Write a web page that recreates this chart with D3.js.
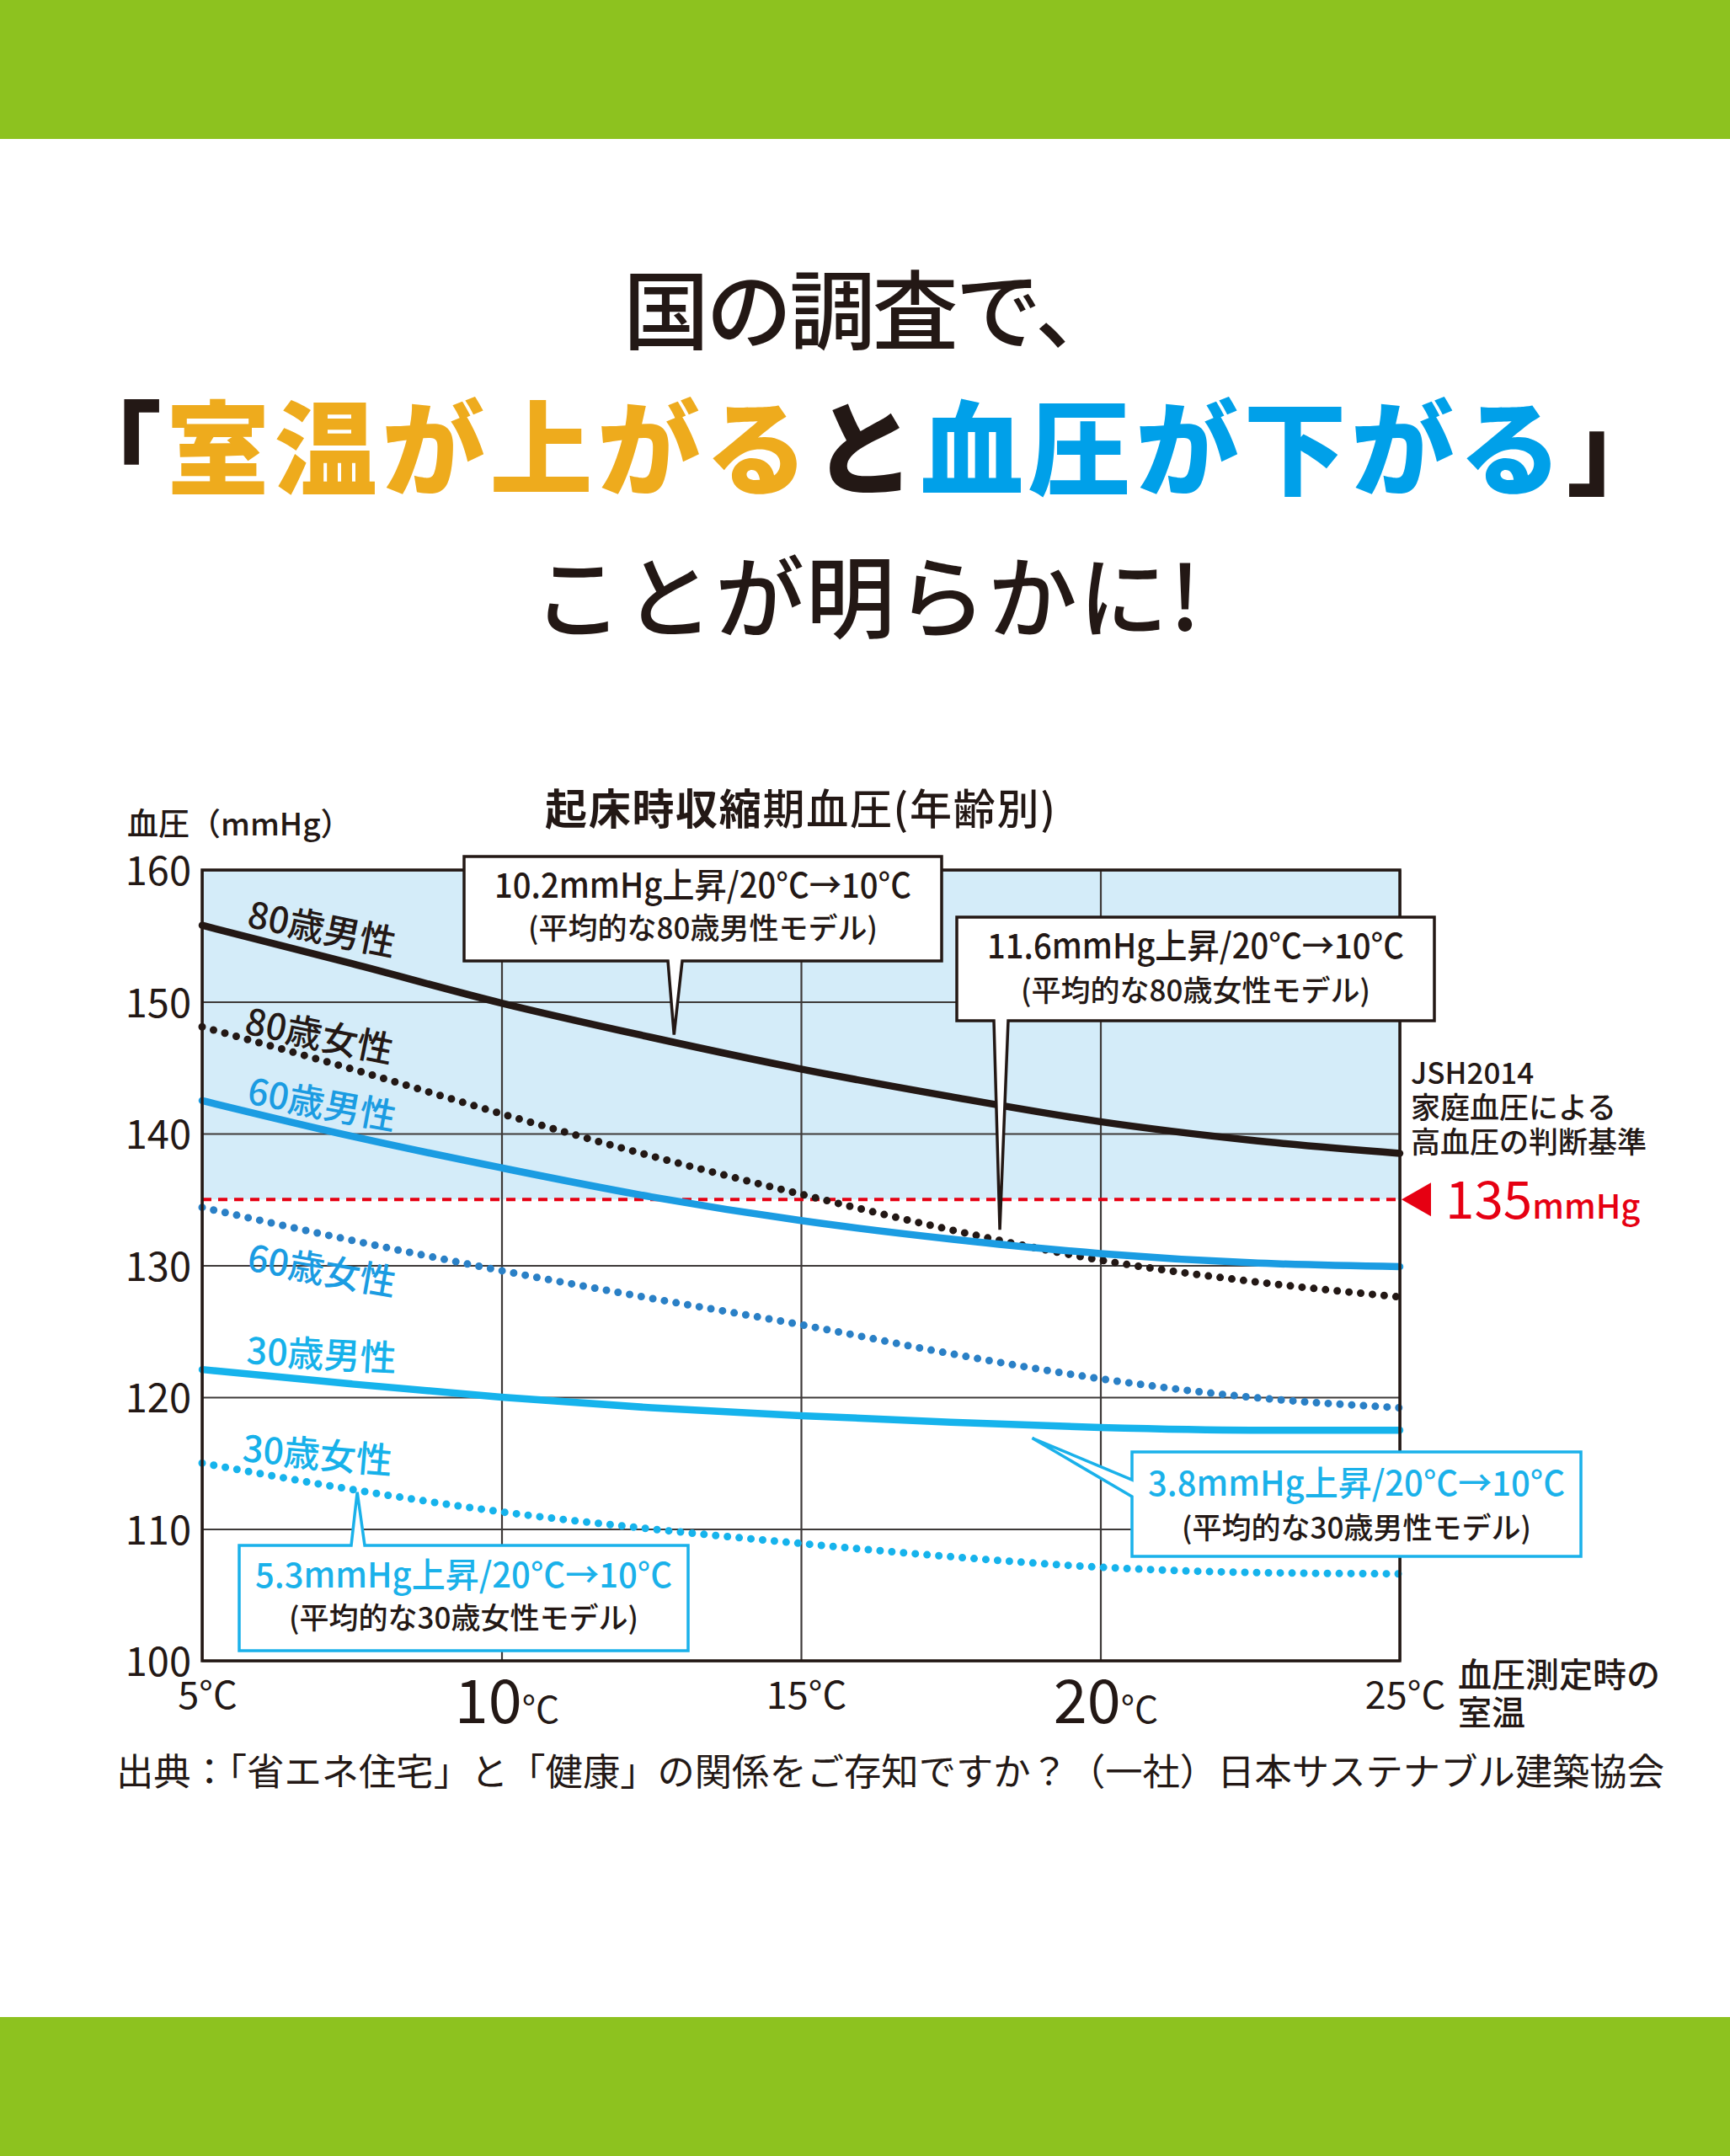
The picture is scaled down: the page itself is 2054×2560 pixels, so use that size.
<!DOCTYPE html>
<html>
<head>
<meta charset="utf-8">
<title>起床時収縮期血圧（年齢別）</title>
<style>
  html, body { margin: 0; padding: 0; background: #fff; }
  svg { display: block; }
  text { font-family: "Noto Sans CJK JP", "Noto Sans", sans-serif; fill: #231815; }
  .grid line { stroke: #3e3a39; stroke-width: 2.2; }
  .grid .domain { display: none; }
</style>
</head>
<body>
<div id="chart"></div>
<script src="https://cdn.jsdelivr.net/npm/d3@7/dist/d3.min.js"></script>
<script>
// ---- data ----
var temps   = [5, 7.5, 10, 12.5, 15, 17.5, 20, 22.5, 25];
var male80   = [155.8, 152.9, 149.9, 147.3, 144.9, 142.8, 140.9, 139.5, 138.5];
var female80 = [148.1, 144.9, 141.5, 138.3, 135.4, 132.7, 130.4, 128.8, 127.6];
var male60   = [142.5, 139.8, 137.4, 135.2, 133.4, 132.0, 130.9, 130.2, 129.9];
var female60 = [134.4, 131.9, 129.6, 127.5, 125.5, 123.3, 121.4, 120.0, 119.2];
var male30   = [122.1, 121.0, 120.0, 119.2, 118.6, 118.1, 117.7, 117.5, 117.5];
var female30 = [115.0, 113.0, 111.3, 110.0, 108.9, 107.9, 107.1, 106.7, 106.6];
var seriesNames = ["80歳男性", "80歳女性", "60歳男性", "60歳女性", "30歳男性", "30歳女性"];
var yTicks = [100, 110, 120, 130, 140, 150, 160];
var xTicks = [5, 10, 15, 20, 25];
var threshold = 135;

var W = 2054, H = 2560;
var x0 = 240, x1 = 1662, yTop = 1033, yBot = 1972;

var x = d3.scaleLinear().domain([5, 25]).range([x0, x1]);
var y = d3.scaleLinear().domain([100, 160]).range([yBot, yTop]);

var svg = d3.select("#chart").append("svg")
    .attr("width", W)
    .attr("height", H);

svg.append("rect").attr("width", W).attr("height", H).attr("fill", "#fff");

// green bands
svg.append("rect").attr("x", 0).attr("y", 0).attr("width", W).attr("height", 165).attr("fill", "#8dc21f");
svg.append("rect").attr("x", 0).attr("y", 2395).attr("width", W).attr("height", 165).attr("fill", "#8dc21f");

// headline
svg.append("text").attr("x", 740).attr("y", 407)
    .attr("font-size", 102).attr("font-weight", 500)
    .attr("textLength", 591).attr("lengthAdjust", "spacing")
    .text("国の調査で、");

var head2 = svg.append("text").attr("x", 70).attr("y", 578)
    .attr("font-size", 122).attr("font-weight", 900);
head2.append("tspan").text("「");
head2.append("tspan").attr("fill", "#eeab1d").text("室温が上がる");
head2.append("tspan").text("と");
head2.append("tspan").attr("fill", "#00a0e9").text("血圧が下がる");
head2.append("tspan").text("」");
// stretch to the reference width with letter spacing
var h2len = head2.node().getComputedTextLength();
head2.attr("letter-spacing", Math.max(0, (1912 - h2len) / 14));

svg.append("text").attr("x", 633).attr("y", 749)
    .attr("font-size", 106).attr("font-weight", 500)
    .attr("textLength", 792).attr("lengthAdjust", "spacing")
    .text("ことが明らかに!");

// chart title and y label
var ct = svg.append("text").attr("x", 647).attr("y", 979).attr("font-size", 50);
ct.append("tspan").attr("font-weight", 700).text("起床時収縮");
ct.append("tspan").attr("font-weight", 500).text("期血圧(年齢別)");
var ctlen = ct.node().getComputedTextLength();
ct.attr("letter-spacing", Math.max(0, (606 - ctlen) / 12));

svg.append("text").attr("x", 151).attr("y", 992).attr("font-size", 37).attr("font-weight", 500)
    .text("血圧（mmHg）");

// light blue band above the threshold
svg.append("rect")
    .attr("x", x0).attr("y", y(160))
    .attr("width", x1 - x0).attr("height", y(threshold) - y(160))
    .attr("fill", "#d4ecf9");

// gridlines
svg.append("g").attr("class", "grid")
    .attr("transform", "translate(" + x0 + ",0)")
    .call(d3.axisLeft(y).tickValues(yTicks).tickSize(-(x1 - x0)).tickFormat(""));
svg.append("g").attr("class", "grid")
    .attr("transform", "translate(0," + yBot + ")")
    .call(d3.axisBottom(x).tickValues(xTicks).tickSize(-(yBot - yTop)).tickFormat(""));

// threshold line
svg.append("line")
    .attr("x1", x0).attr("x2", x1)
    .attr("y1", y(threshold)).attr("y2", y(threshold))
    .attr("stroke", "#e60012").attr("stroke-width", 4).attr("stroke-dasharray", "11,8");

// series
var series = [
  { name: seriesNames[0], values: male80,   color: "#231815", dotted: false, labelColor: "#231815", lt: 5.73, lv: 155.7, rot: 11.5 },
  { name: seriesNames[1], values: female80, color: "#231815", dotted: true,  labelColor: "#231815", lt: 5.69, lv: 147.6, rot: 11.5 },
  { name: seriesNames[2], values: male60,   color: "#1b9ce2", dotted: false, labelColor: "#1b9ce2", lt: 5.73, lv: 142.3, rot: 10.5 },
  { name: seriesNames[3], values: female60, color: "#2a80c6", dotted: true,  labelColor: "#1b9ce2", lt: 5.73, lv: 129.65, rot: 10 },
  { name: seriesNames[4], values: male30,   color: "#16b3ec", dotted: false, labelColor: "#16b1ea", lt: 5.73, lv: 122.55, rot: 3 },
  { name: seriesNames[5], values: female30, color: "#16b3ec", dotted: true,  labelColor: "#16b1ea", lt: 5.66, lv: 115.14, rot: 5 }
];

var line = d3.line()
    .x(function(d, i) { return x(temps[i]); })
    .y(function(d) { return y(d); })
    .curve(d3.curveMonotoneX);

svg.selectAll(".series")
    .data(series)
    .enter()
    .append("path")
    .attr("class", "series")
    .attr("d", function(d) { return line(d.values); })
    .attr("fill", "none")
    .attr("stroke", function(d) { return d.color; })
    .attr("stroke-width", function(d) { return d.dotted ? 9 : 8.5; })
    .attr("stroke-linecap", "round")
    .attr("stroke-dasharray", function(d) { return d.dotted ? "0,14" : null; });

svg.selectAll(".slabel")
    .data(series)
    .enter()
    .append("text")
    .attr("class", "slabel")
    .attr("transform", function(d) {
      return "translate(" + x(d.lt) + "," + y(d.lv) + ") rotate(" + d.rot + ")";
    })
    .attr("font-size", 43)
    .attr("font-weight", 500)
    .style("fill", function(d) { return d.labelColor; })
    .text(function(d) { return d.name; });

// plot frame
svg.append("rect")
    .attr("x", x0).attr("y", yTop)
    .attr("width", x1 - x0).attr("height", yBot - yTop)
    .attr("fill", "none").attr("stroke", "#231815").attr("stroke-width", 3.5);

// y tick labels
var yAxis = svg.append("g")
    .attr("transform", "translate(" + x0 + ",0)")
    .call(d3.axisLeft(y).tickValues(yTicks).tickSize(0).tickPadding(13));
yAxis.select(".domain").remove();
yAxis.selectAll("text")
    .attr("font-size", 47)
    .attr("font-family", "'Noto Sans CJK JP', sans-serif")
    .attr("dy", "0.38em")
    .style("fill", "#231815");

// x tick labels
var xAxis = svg.append("g")
    .attr("transform", "translate(0," + yBot + ")")
    .call(d3.axisBottom(x).tickValues(xTicks).tickSize(0).tickFormat(""));
xAxis.select(".domain").remove();
xAxis.selectAll(".tick text").each(function(d) {
  var t = d3.select(this).attr("dy", null).attr("x", 6).attr("font-family", "'Noto Sans CJK JP', sans-serif")
      .style("fill", "#231815");
  if (d === 10 || d === 20) {
    t.attr("y", 74);
    t.append("tspan").attr("font-size", 72).text(d);
    t.append("tspan").attr("font-size", 44).text("°C");
  } else {
    t.attr("y", 57).attr("font-size", 45).text(d + "°C");
  }
});

var xt = svg.append("text").attr("x", 1731).attr("y", 2003).attr("font-size", 40).attr("font-weight", 500);
xt.append("tspan").attr("x", 1731).text("血圧測定時の");
xt.append("tspan").attr("x", 1731).attr("dy", 45).text("室温");

// threshold caption
var jsh = svg.append("text").attr("x", 1675).attr("y", 1287).attr("font-size", 35).attr("font-weight", 500);
jsh.append("tspan").attr("x", 1675).text("JSH2014");
jsh.append("tspan").attr("x", 1675).attr("dy", 41).text("家庭血圧による");
jsh.append("tspan").attr("x", 1675).attr("dy", 41).text("高血圧の判断基準");

var ty = y(threshold);
svg.append("path")
    .attr("d", "M" + (x1 + 2) + "," + ty + " L" + (x1 + 37) + "," + (ty - 20) + " L" + (x1 + 37) + "," + (ty + 20) + " Z")
    .attr("fill", "#e60012");
var th = svg.append("text").attr("x", 1716).attr("y", ty + 23).style("fill", "#e60012");
th.append("tspan").attr("font-size", 62).attr("font-weight", 400).text(threshold);
th.append("tspan").attr("font-size", 40).attr("font-weight", 500).text("mmHg");

// callouts
var callouts = [
  { box: [551, 1017, 1118, 1141], side: "bottom", base: [793, 810], tip: [12.88, 147.5], stroke: "#231815",
    l1: "10.2mmHg上昇/20°C→10°C", c1: "#231815", y1: 1066, l2: "(平均的な80歳男性モデル)", y2: 1115 },
  { box: [1136, 1089, 1703, 1212], side: "bottom", base: [1180, 1197], tip: [18.32, 132.7], stroke: "#231815",
    l1: "11.6mmHg上昇/20°C→10°C", c1: "#231815", y1: 1138, l2: "(平均的な80歳女性モデル)", y2: 1189 },
  { box: [1344, 1724, 1877, 1848], side: "left", base: [1757, 1777], tip: [18.86, 116.9], stroke: "#1ab1ea",
    l1: "3.8mmHg上昇/20°C→10°C", c1: "#1ab1ea", y1: 1776, l2: "(平均的な30歳男性モデル)", y2: 1827 },
  { box: [284, 1835, 817, 1960], side: "top", base: [417, 433], tip: [7.59, 112.8], stroke: "#1ab1ea",
    l1: "5.3mmHg上昇/20°C→10°C", c1: "#1ab1ea", y1: 1885, l2: "(平均的な30歳女性モデル)", y2: 1934 }
];

function calloutPath(c) {
  var l = c.box[0], t = c.box[1], r = c.box[2], b = c.box[3];
  var tx = x(c.tip[0]), tyy = y(c.tip[1]);
  var p = d3.path();
  if (c.side === "bottom") {
    p.moveTo(l, t); p.lineTo(r, t); p.lineTo(r, b);
    p.lineTo(c.base[1], b); p.lineTo(tx, tyy); p.lineTo(c.base[0], b);
    p.lineTo(l, b); p.closePath();
  } else if (c.side === "top") {
    p.moveTo(l, t); p.lineTo(c.base[0], t); p.lineTo(tx, tyy); p.lineTo(c.base[1], t);
    p.lineTo(r, t); p.lineTo(r, b); p.lineTo(l, b); p.closePath();
  } else {
    p.moveTo(l, t); p.lineTo(r, t); p.lineTo(r, b); p.lineTo(l, b);
    p.lineTo(l, c.base[1]); p.lineTo(tx, tyy); p.lineTo(l, c.base[0]); p.closePath();
  }
  return p.toString();
}

var cg = svg.selectAll(".callout")
    .data(callouts)
    .enter()
    .append("g")
    .attr("class", "callout");

cg.append("path")
    .attr("d", calloutPath)
    .attr("fill", "#fff")
    .attr("stroke", function(d) { return d.stroke; })
    .attr("stroke-width", 3.5)
    .attr("stroke-linejoin", "miter");

cg.append("text")
    .attr("x", function(d) { return (d.box[0] + d.box[2]) / 2; })
    .attr("y", function(d) { return d.y1; })
    .attr("text-anchor", "middle")
    .attr("font-size", 41)
    .attr("font-weight", 500)
    .attr("textLength", function(d) { return d.l1.length > 20 ? 513 : 495; })
    .attr("lengthAdjust", "spacingAndGlyphs")
    .style("fill", function(d) { return d.c1; })
    .text(function(d) { return d.l1; });

cg.append("text")
    .attr("x", function(d) { return (d.box[0] + d.box[2]) / 2; })
    .attr("y", function(d) { return d.y2; })
    .attr("text-anchor", "middle")
    .attr("font-size", 35)
    .attr("font-weight", 500)
    .text(function(d) { return d.l2; });

// source
svg.append("text").attr("x", 138).attr("y", 2120).attr("font-size", 44).attr("font-weight", 400)
    .attr("textLength", 1838).attr("lengthAdjust", "spacingAndGlyphs")
    .text("出典：「省エネ住宅」と「健康」の関係をご存知ですか？（一社）日本サステナブル建築協会");
</script>
</body>
</html>
